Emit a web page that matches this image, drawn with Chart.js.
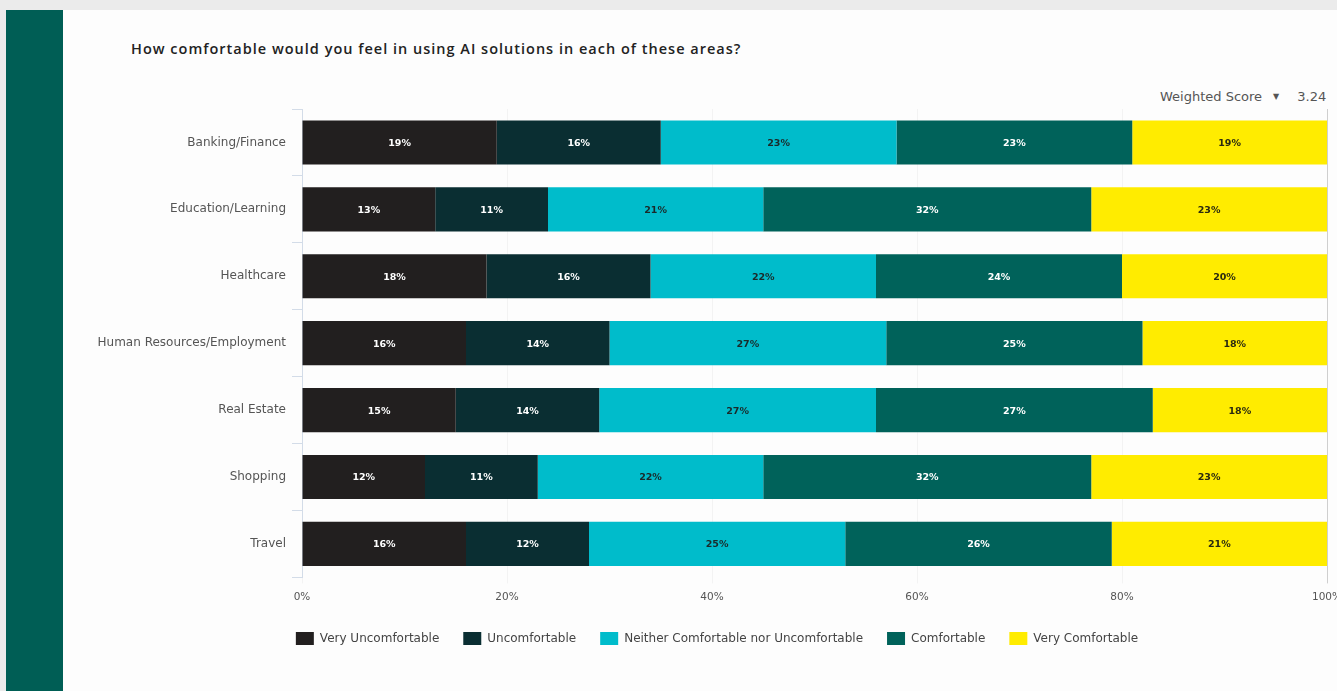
<!DOCTYPE html>
<html>
<head>
<meta charset="utf-8">
<script src="https://cdn.jsdelivr.net/npm/chart.js@4.4.1/dist/chart.umd.min.js"></script>
<style>
  html, body { margin: 0; padding: 0; }
  body { width: 1337px; height: 691px; background: #ebebeb; position: relative; overflow: hidden; font-family: "DejaVu Sans", sans-serif; }
  #strip { position: absolute; left: 6px; top: 10px; width: 57px; height: 681px; background: #005e55; }
  #panel { position: absolute; left: 63px; top: 10px; width: 1274px; height: 681px; background: #fdfdfd; }
  #title { position: absolute; left: 131px; top: 39px; font-family: "Open Sans", sans-serif; font-size: 14.5px; font-weight: 600; letter-spacing: 1px; color: #222; white-space: nowrap; }
  #score { position: absolute; left: 1160px; top: 89px; font-size: 13px; color: #555; white-space: nowrap; }
  #score .val { margin-left: 18px; }
  #score .arrow { font-size: 8px; margin-left: 11px; position: relative; top: -2px; }
  #wrap { position: absolute; left: 63px; top: 85px; width: 1274px; height: 580px; }
</style>
</head>
<body>
<div id="strip"></div>
<div id="panel"></div>
<div id="title">How comfortable would you feel in using AI solutions in each of these areas?</div>
<div id="score">Weighted Score<span class="arrow">▼</span><span class="val">3.24</span></div>
<div id="wrap"><canvas id="chart"></canvas></div>
<script>
const areas = ["Banking/Finance", "Education/Learning", "Healthcare", "Human Resources/Employment", "Real Estate", "Shopping", "Travel"];
const veryUncomfortable = [19, 13, 18, 16, 15, 12, 16];
const uncomfortable     = [16, 11, 16, 14, 14, 11, 12];
const neither           = [23, 21, 22, 27, 27, 22, 25];
const comfortable       = [23, 32, 24, 25, 27, 32, 26];
const veryComfortable   = [19, 23, 20, 18, 18, 23, 21];
const xTicks = [0, 20, 40, 60, 80, 100];

const series = [
  { label: "Very Uncomfortable", data: veryUncomfortable, color: "#221f1f", text: "#ffffff" },
  { label: "Uncomfortable", data: uncomfortable, color: "#0a2e32", text: "#ffffff" },
  { label: "Neither Comfortable nor Uncomfortable", data: neither, color: "#00bccb", text: "#1a2a2a" },
  { label: "Comfortable", data: comfortable, color: "#00625a", text: "#ffffff" },
  { label: "Very Comfortable", data: veryComfortable, color: "#ffec00", text: "#2a2a10" }
];

const FONT = "'DejaVu Sans', sans-serif";

// percentage text in the middle of each segment
const segmentLabels = {
  id: "segmentLabels",
  afterDatasetsDraw(chart) {
    const ctx = chart.ctx;
    ctx.save();
    ctx.font = "bold 9.5px " + FONT;
    ctx.textAlign = "center";
    ctx.textBaseline = "middle";
    chart.data.datasets.forEach((ds, i) => {
      const meta = chart.getDatasetMeta(i);
      meta.data.forEach((bar, j) => {
        const left = Math.min(bar.base, bar.x);
        const right = Math.min(Math.max(bar.base, bar.x), chart.chartArea.right);
        ctx.fillStyle = series[i].text;
        ctx.fillText(ds.data[j] + "%", (left + right) / 2, bar.y + 1);
      });
    });
    ctx.restore();
  }
};

// nudge the legend row a little right of the canvas centre
const legendShift = {
  id: "legendShift",
  afterLayout(chart) {
    chart.legend.left += 22;
    chart.legend.right += 22;
  }
};

new Chart(document.getElementById("chart"), {
  type: "bar",
  data: {
    labels: areas,
    datasets: series.map(s => ({
      label: s.label,
      data: s.data,
      backgroundColor: s.color,
      borderWidth: 0,
      barPercentage: 0.66,
      categoryPercentage: 1
    }))
  },
  options: {
    indexAxis: "y",
    responsive: true,
    maintainAspectRatio: false,
    animation: false,
    layout: { padding: { top: 24, right: 10, left: 0, bottom: 10 } },
    plugins: {
      tooltip: { enabled: false },
      legend: {
        position: "bottom",
        labels: {
          boxWidth: 18,
          boxHeight: 13,
          padding: 24,
          color: "#444",
          font: { family: FONT, size: 12 }
        }
      }
    },
    scales: {
      x: {
        stacked: true,
        min: 0,
        max: 100,
        afterBuildTicks: scale => { scale.ticks = xTicks.map(v => ({ value: v })); },
        afterFit: scale => { scale.paddingRight = 0; scale.height -= 4; },
        ticks: {
          callback: v => v + "%",
          color: "#555",
          padding: 8,
          font: { family: FONT, size: 10.5 }
        },
        grid: {
          color: ctx => ctx.tick && ctx.tick.value === 100 ? "#cfcfcf" : "#f3f3f3",
          tickLength: 6
        },
        border: { display: false }
      },
      y: {
        stacked: true,
        afterFit: scale => { scale.width = 239; },
        ticks: {
          color: "#555",
          padding: 6,
          font: { family: FONT, size: 12 }
        },
        grid: {
          drawOnChartArea: false,
          color: "#d3dce8",
          tickLength: 10
        },
        border: { color: "#d3dce8" }
      }
    }
  },
  plugins: [segmentLabels, legendShift]
});
</script>
</body>
</html>
